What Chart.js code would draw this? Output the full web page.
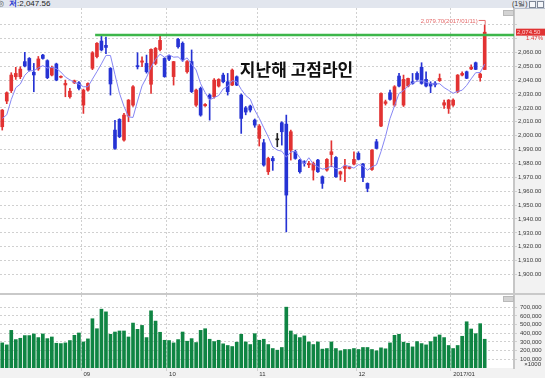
<!DOCTYPE html>
<html>
<head>
<meta charset="utf-8">
<script src="https://cdn.jsdelivr.net/npm/chart.js@4.4.1/dist/chart.umd.min.js"></script>
<style>
  html, body { margin: 0; padding: 0; }
  body { width: 545px; height: 378px; overflow: hidden; background: #f2f2f2; position: relative; font-family: "Liberation Sans", sans-serif; }
  #top { position: absolute; left: 0; top: 0; width: 545px; height: 8px; background: #e2e6ee; border-bottom: 1px solid #b7bfcc; font-size: 8px; line-height: 8px; color: #222; white-space: nowrap; }
  #top .ic { position: absolute; left: -3px; top: 0; color: #555; }
  #top .lo { position: absolute; left: 9px; top: 0; }
  #top .lo b { color: #1b2fd0; }
  #top .per { position: absolute; left: 512px; top: 0; font-size: 7px; color: #333; }
  #top .btn { position: absolute; top: 1px; width: 5px; height: 5px; border: 1px solid #7d8696; background: #f4f6fa; }
  #price { position: absolute; left: 0; top: 8px; }
  #sep { position: absolute; left: 0; top: 293px; width: 545px; height: 2px; background: #c9c9c9; }
  #vol { position: absolute; left: 0; top: 295px; }
  .mini { position: absolute; width: 9px; height: 4px; background: #d3d3d3; border: 1px solid #b9b9b9; }
</style>
</head>
<body>
<div id="top"><span class="ic">◎</span><span class="lo"><b>저</b>:<span id="lowv"></span></span><span class="per">(1일)</span><span class="btn" style="left:529px"></span><span class="btn" style="left:537px"></span></div>
<canvas id="price" width="545" height="285"></canvas>
<div id="sep"></div>
<canvas id="vol" width="545" height="83"></canvas>
<div class="mini" style="left:503px; top:10px"></div>
<div class="mini" style="left:503px; top:296px"></div>
<script>
// trading days shown (KOSPI daily)
const dates = [
  '2016/08/05','2016/08/08','2016/08/09','2016/08/10','2016/08/11','2016/08/12','2016/08/16','2016/08/17','2016/08/18','2016/08/19',
  '2016/08/22','2016/08/23','2016/08/24','2016/08/25','2016/08/26','2016/08/29','2016/08/30','2016/08/31',
  '2016/09/01','2016/09/02','2016/09/05','2016/09/06','2016/09/07','2016/09/08','2016/09/09','2016/09/12','2016/09/13','2016/09/19',
  '2016/09/20','2016/09/21','2016/09/22','2016/09/23','2016/09/26','2016/09/27','2016/09/28','2016/09/29','2016/09/30',
  '2016/10/04','2016/10/05','2016/10/06','2016/10/07','2016/10/10','2016/10/11','2016/10/12','2016/10/13','2016/10/14','2016/10/17',
  '2016/10/18','2016/10/19','2016/10/20','2016/10/21','2016/10/24','2016/10/25','2016/10/26','2016/10/27','2016/10/28','2016/10/31',
  '2016/11/01','2016/11/02','2016/11/03','2016/11/04','2016/11/07','2016/11/08','2016/11/09','2016/11/10','2016/11/11','2016/11/14',
  '2016/11/15','2016/11/16','2016/11/17','2016/11/18','2016/11/21','2016/11/22','2016/11/23','2016/11/24','2016/11/25','2016/11/28',
  '2016/11/29','2016/11/30',
  '2016/12/01','2016/12/02','2016/12/05','2016/12/06','2016/12/07','2016/12/08','2016/12/09','2016/12/12','2016/12/13','2016/12/14',
  '2016/12/15','2016/12/16','2016/12/19','2016/12/20','2016/12/21','2016/12/22','2016/12/23','2016/12/26','2016/12/27','2016/12/28',
  '2016/12/29',
  '2017/01/02','2017/01/03','2017/01/04','2017/01/05','2017/01/06','2017/01/09','2017/01/10','2017/01/11'
];

const opens = [
  2006.4, 2024.9, 2032.4, 2042.4, 2042.4, 2053.3, 2055.6, 2045.6, 2048.0, 2058.0,
  2054.0, 2043.6, 2051.6, 2042.0, 2036.5, 2028.0, 2038.0, 2038.1, 2022.0, 2032.8,
  2048.5, 2056.9, 2068.1, 2065.0, 2048.4, 2004.0, 2011.7, 1996.8, 2014.1, 2022.0,
  2050.4, 2052.9, 2052.0, 2037.0, 2052.0, 2062.0, 2055.6, 2057.3, 2042.5, 2069.3,
  2066.5, 2046.0, 2053.3, 2022.0, 2034.0, 2021.5, 2029.2, 2028.0, 2035.7, 2043.6,
  2038.8, 2036.4, 2042.4, 2029.2, 2020.0, 2021.3, 2011.2, 1998.0, 1994.9, 1974.0,
  1983.6, 1997.0, 2009.3, 2008.3, 1989.6, 1988.4, 1982.4, 1981.2, 1979.0, 1975.2,
  1982.4, 1970.4, 1975.2, 1986.4, 1984.3, 1972.3, 1976.4, 1976.4, 1979.5, 1987.2,
  1979.5, 1965.6, 1975.6, 1995.6, 2006.9, 2023.2, 2030.9, 2022.0, 2042.9, 2022.0,
  2035.7, 2038.8, 2044.8, 2049.2, 2040.5, 2037.6, 2037.8, 2039.6, 2022.0, 2019.6,
  2022.0, 2031.6, 2043.6, 2046.0, 2048.0, 2052.5, 2041.8, 2047.6
];
const highs = [
  2018.8, 2031.5, 2045.3, 2049.2, 2049.6, 2060.0, 2056.2, 2052.0, 2057.0, 2058.6,
  2054.6, 2050.0, 2052.2, 2043.0, 2040.0, 2034.0, 2040.0, 2039.0, 2033.5, 2038.0,
  2060.5, 2067.0, 2071.7, 2071.0, 2049.0, 2011.0, 2012.2, 2016.0, 2026.0, 2036.0,
  2059.7, 2056.8, 2058.0, 2062.5, 2063.5, 2071.7, 2056.2, 2058.0, 2053.5, 2070.0,
  2067.5, 2054.0, 2061.7, 2033.5, 2035.0, 2023.0, 2030.0, 2041.0, 2041.0, 2045.0,
  2044.8, 2048.0, 2043.0, 2030.0, 2021.0, 2022.0, 2012.0, 2008.0, 1997.3, 1984.5,
  1985.0, 2001.6, 2010.0, 2014.8, 2004.0, 1989.6, 1983.0, 1982.0, 1981.5, 1981.0,
  1983.0, 1971.0, 1983.5, 1996.3, 1985.0, 1974.5, 1982.9, 1978.0, 1988.4, 1988.4,
  1980.0, 1966.0, 1990.0, 1997.3, 2030.8, 2025.6, 2032.8, 2036.0, 2044.8, 2043.6,
  2041.5, 2044.8, 2046.0, 2052.5, 2046.0, 2038.8, 2039.0, 2044.4, 2025.6, 2026.0,
  2026.5, 2044.0, 2046.0, 2046.5, 2051.0, 2053.0, 2045.0, 2079.7
];
const lows = [
  2004.0, 2023.0, 2031.0, 2040.5, 2041.0, 2049.5, 2046.5, 2031.6, 2047.0, 2055.0,
  2041.0, 2043.0, 2039.5, 2041.5, 2028.0, 2027.0, 2037.5, 2033.0, 2016.0, 2032.0,
  2047.5, 2056.0, 2061.0, 2059.0, 2029.2, 1990.0, 1998.5, 1996.0, 2010.0, 2021.0,
  2048.0, 2049.6, 2045.0, 2030.4, 2051.0, 2061.0, 2042.0, 2054.0, 2036.4, 2063.0,
  2053.5, 2045.0, 2031.0, 2021.0, 2014.0, 2021.0, 2011.2, 2027.0, 2035.0, 2038.0,
  2029.2, 2036.0, 2036.0, 2001.6, 2015.0, 2017.0, 2006.0, 1992.5, 1978.0, 1972.0,
  1975.0, 1992.0, 1993.2, 1930.7, 1982.4, 1983.0, 1973.0, 1978.0, 1977.0, 1968.0,
  1973.5, 1962.0, 1974.5, 1977.6, 1970.0, 1968.0, 1966.8, 1976.0, 1979.0, 1982.5,
  1966.8, 1959.6, 1975.0, 1990.5, 2006.5, 2022.0, 2025.5, 2021.0, 2035.0, 2021.0,
  2035.0, 2037.0, 2040.0, 2037.0, 2035.0, 2030.9, 2035.0, 2039.0, 2019.6, 2016.0,
  2021.0, 2031.0, 2043.0, 2041.0, 2047.5, 2047.5, 2039.2, 2047.56
];
const closes = [
  2018.4, 2030.9, 2043.6, 2044.8, 2047.9, 2050.1, 2047.2, 2043.7, 2055.2, 2055.6,
  2041.7, 2049.2, 2040.0, 2042.4, 2037.6, 2032.0, 2039.5, 2034.0, 2032.8, 2037.6,
  2059.7, 2066.5, 2061.7, 2063.5, 2037.2, 1990.8, 1999.2, 2014.8, 2025.6, 2035.2,
  2049.6, 2053.8, 2046.0, 2062.1, 2062.9, 2068.6, 2042.5, 2055.0, 2053.3, 2064.0,
  2054.5, 2053.3, 2031.7, 2032.8, 2014.8, 2022.5, 2026.8, 2040.0, 2040.5, 2038.8,
  2031.6, 2047.2, 2036.4, 2012.4, 2017.0, 2018.4, 2007.6, 2006.9, 1978.8, 1983.6,
  1981.9, 1997.0, 2002.8, 1957.2, 2002.8, 1983.6, 1974.0, 1980.0, 1980.0, 1980.0,
  1974.0, 1965.6, 1982.9, 1988.4, 1970.4, 1974.0, 1978.1, 1977.6, 1982.9, 1982.9,
  1969.9, 1962.0, 1989.6, 1990.8, 2030.4, 2024.4, 2026.1, 2035.2, 2035.7, 2040.5,
  2041.2, 2037.6, 2040.5, 2037.6, 2035.7, 2035.7, 2036.6, 2041.2, 2023.7, 2025.6,
  2025.6, 2043.6, 2044.8, 2041.3, 2049.2, 2047.7, 2044.4, 2074.5
];
// moving average line
const ma5 = [
  2012.4, 2015.0, 2026.0, 2034.5, 2037.1, 2043.5, 2046.7, 2046.7, 2048.8, 2050.4,
  2048.7, 2049.1, 2048.3, 2045.8, 2042.2, 2040.2, 2038.3, 2037.1, 2035.2, 2035.2,
  2040.7, 2046.1, 2051.7, 2057.8, 2057.7, 2043.9, 2030.5, 2021.1, 2013.5, 2013.1,
  2024.9, 2035.8, 2042.0, 2049.3, 2054.9, 2058.7, 2056.4, 2058.2, 2056.5, 2056.7,
  2053.9, 2056.0, 2051.4, 2047.3, 2037.4, 2031.0, 2025.7, 2027.4, 2028.9, 2033.7,
  2035.5, 2039.6, 2038.9, 2033.3, 2028.9, 2026.3, 2018.4, 2012.5, 2005.7, 1999.1,
  1991.8, 1989.6, 1988.8, 1984.5, 1988.3, 1988.7, 1984.1, 1979.5, 1984.1, 1979.5,
  1977.6, 1975.9, 1976.5, 1978.2, 1976.3, 1976.3, 1978.8, 1977.7, 1976.6, 1979.1,
  1978.3, 1975.1, 1977.5, 1979.0, 1988.5, 1999.4, 2012.3, 2021.4, 2030.4, 2032.4,
  2035.7, 2038.0, 2039.1, 2039.5, 2038.5, 2037.4, 2037.2, 2037.4, 2034.6, 2032.6,
  2030.5, 2031.9, 2032.7, 2036.2, 2040.9, 2045.3, 2045.5, 2051.5
];
// volume, unit x1000 shares
const volumes = [
  289000, 266000, 433000, 327000, 342000, 373000, 373000, 392000, 350000, 392000,
  338000, 357000, 285000, 281000, 289000, 316000, 376000, 403000, 300000, 335000,
  567000, 452000, 677000, 646000, 388000, 414000, 426000, 426000, 357000, 517000,
  445000, 490000, 350000, 658000, 540000, 411000, 319000, 316000, 289000, 327000,
  414000, 308000, 338000, 293000, 433000, 452000, 331000, 304000, 319000, 278000,
  259000, 247000, 297000, 388000, 300000, 270000, 395000, 319000, 331000, 270000,
  224000, 205000, 236000, 700000, 426000, 384000, 350000, 369000, 300000, 270000,
  300000, 217000, 224000, 300000, 224000, 198000, 213000, 213000, 224000, 213000,
  236000, 236000, 213000, 198000, 232000, 221000, 289000, 376000, 388000, 297000,
  285000, 243000, 304000, 281000, 266000, 304000, 357000, 380000, 350000, 259000,
  224000, 259000, 365000, 532000, 449000, 395000, 510000, 331000
];

const priceTicks = [1900, 1910, 1920, 1930, 1940, 1950, 1960, 1970, 1980, 1990, 2000,
  2010, 2020, 2030, 2040, 2050, 2060, 2070, 2080];
const volumeTicks = [100000, 200000, 300000, 400000, 500000, 600000, 700000];

const prevYearHigh = 2072.5;        // 지난해 고점라인 level
const prevYearHighFrom = 20.6;      // category position where the line starts
const caption = '지난해 고점라인';
const captionAt = [52.7, 2047.3];   // [category, price]

const SLOTS = 114;                  // empty slots on the right of the last candle
const labels = dates.concat(Array(SLOTS - dates.length).fill(''));

const UP = '#e23232', DOWN = '#2633d4', EVEN = '#222222';
const candleColors = opens.map((o, k) => closes[k] > o ? UP : (closes[k] < o ? DOWN : EVEN));
const monthStart = labels.map((d, k) => k > 0 && d !== '' && d.slice(0, 7) !== labels[k - 1].slice(0, 7));
const monthText = k => {
  const [yy, mm] = labels[k].split('/');
  return mm === '01' ? yy + '/' + mm : mm;
};
const fmt2 = v => v.toLocaleString('en-US', { minimumFractionDigits: 2, maximumFractionDigits: 2 });
const GRID = '#d0d0d0';
const small = { size: 6, family: 'Liberation Sans' };

document.getElementById('lowv').textContent = fmt2(lows[lows.length - 1]);

// white plot background, axis areas stay grey
const plotBg = {
  id: 'plotBg',
  beforeDraw(c) {
    const { ctx, chartArea: a } = c;
    ctx.save();
    ctx.fillStyle = '#ffffff';
    ctx.fillRect(a.left, a.top, a.right - a.left, a.bottom - a.top);
    ctx.restore();
  }
};

const priceMarks = {
  id: 'priceMarks',
  afterDraw(c) {
    const { ctx, chartArea: a, scales: { x, y } } = c;
    ctx.save();
    ctx.textBaseline = 'middle';

    // last year's high
    const gy = y.getPixelForValue(prevYearHigh);
    ctx.strokeStyle = '#3db64a';
    ctx.lineWidth = 2.5;
    ctx.beginPath();
    ctx.moveTo(x.getPixelForValue(prevYearHighFrom), gy);
    ctx.lineTo(a.right, gy);
    ctx.stroke();

    ctx.fillStyle = '#111';
    ctx.font = 'bold 17px "Noto Sans CJK KR"';
    ctx.textAlign = 'left';
    ctx.fillText(caption, x.getPixelForValue(captionAt[0]), y.getPixelForValue(captionAt[1]));

    // highest price marker
    const hi = Math.max(...highs);
    const hk = highs.indexOf(hi);
    const hx = x.getPixelForValue(hk), hy = y.getPixelForValue(hi);
    ctx.font = '6px "Liberation Sans"';
    ctx.fillStyle = '#e46a6a';
    ctx.textAlign = 'right';
    ctx.fillText(fmt2(hi) + '(' + dates[hk] + ')', hx - 7, hy - 4);
    ctx.strokeStyle = '#e46a6a';
    ctx.lineWidth = 1;
    ctx.beginPath();
    ctx.moveTo(hx - 6, hy - 4.5);
    ctx.lineTo(hx + 0.5, hy - 4.5);
    ctx.lineTo(hx + 0.5, hy - 1);
    ctx.stroke();

    // current price tag on the axis
    const last = closes.length - 1;
    const cy = y.getPixelForValue(closes[last]);
    ctx.fillStyle = '#e03333';
    ctx.fillRect(a.right + 2, cy - 3.5, 31, 7);
    ctx.fillStyle = '#ffd2d2';
    ctx.textAlign = 'left';
    ctx.fillText(fmt2(closes[last]), a.right + 3, cy);
    const chg = (closes[last] / closes[last - 1] - 1) * 100;
    ctx.fillStyle = '#e03333';
    ctx.textAlign = 'right';
    ctx.fillText(chg.toFixed(2) + '%', c.width - 2, cy + 6.5);
    ctx.restore();
  }
};

const volMarks = {
  id: 'volMarks',
  afterDraw(c) {
    const { ctx, scales: { y } } = c;
    ctx.save();
    ctx.font = '6px "Liberation Sans"';
    ctx.fillStyle = '#333';
    ctx.textAlign = 'right';
    ctx.textBaseline = 'middle';
    ctx.fillText('×1000', c.width - 4, y.getPixelForValue(volumeTicks[0]) + 5.5);
    ctx.restore();
  }
};

const monthGrid = c => monthStart[c.index] ? GRID : 'rgba(0,0,0,0)';
// keep the plot flush with the canvas: no extra room for half labels
const fitRight = s => { s.width = 31; s.paddingTop = 0; s.paddingBottom = 0; };

new Chart(document.getElementById('price'), {
  type: 'bar',
  data: {
    labels: labels,
    datasets: [
      { type: 'line', data: ma5, borderColor: '#8787f4', borderWidth: 1, pointRadius: 0, tension: 0, order: 0 },
      { data: opens.map((o, k) => [o, closes[k]]), backgroundColor: candleColors, barThickness: 3, minBarLength: 1, grouped: false, order: 1 },
      { data: lows.map((l, k) => [l, highs[k]]), backgroundColor: candleColors, barThickness: 1, grouped: false, order: 2 }
    ]
  },
  options: {
    responsive: false,
    animation: false,
    events: [],
    layout: { padding: 0 },
    plugins: { legend: { display: false }, tooltip: { enabled: false } },
    scales: {
      x: {
        offset: true,
        afterFit: s => { s.paddingLeft = 0; s.paddingRight = 0; },
        grid: { offset: true, color: monthGrid, drawTicks: false },
        border: { display: false, dash: [2, 2] },
        ticks: { display: false }
      },
      y: {
        position: 'right',
        min: 1886.7,
        max: 2091.9,
        afterBuildTicks: s => { s.ticks = priceTicks.map(v => ({ value: v })); },
        afterFit: fitRight,
        ticks: { callback: v => v <= 2060 ? fmt2(v) : '', font: small, color: '#3a3a3a', padding: 1 },
        grid: { color: GRID, tickLength: 3 },
        border: { color: '#c6c6c6', width: 2, dash: [2, 2] }
      }
    }
  },
  plugins: [plotBg, priceMarks]
});

new Chart(document.getElementById('vol'), {
  type: 'bar',
  data: {
    labels: labels,
    datasets: [
      { data: volumes, backgroundColor: '#0f8543', barThickness: 3 }
    ]
  },
  options: {
    responsive: false,
    animation: false,
    events: [],
    layout: { padding: 0 },
    plugins: { legend: { display: false }, tooltip: { enabled: false } },
    scales: {
      x: {
        offset: true,
        afterFit: s => { s.height = 10; s.paddingLeft = 0; s.paddingRight = 0; },
        grid: { offset: true, color: monthGrid, tickLength: 3 },
        border: { display: false, dash: [2, 2] },
        ticks: {
          autoSkip: false, maxRotation: 0, align: 'start', padding: 0,
          font: small, color: '#333',
          callback: (v, k) => monthStart[k] ? monthText(k) : ''
        }
      },
      y: {
        position: 'right',
        min: 0,
        max: 840000,
        afterBuildTicks: s => { s.ticks = volumeTicks.map(v => ({ value: v })); },
        afterFit: fitRight,
        ticks: { callback: v => v.toLocaleString('en-US'), font: small, color: '#3a3a3a', padding: 3 },
        grid: { color: GRID, tickLength: 3 },
        border: { color: '#c6c6c6', width: 2, dash: [2, 2] }
      }
    }
  },
  plugins: [plotBg, volMarks]
});
</script>
</body>
</html>
